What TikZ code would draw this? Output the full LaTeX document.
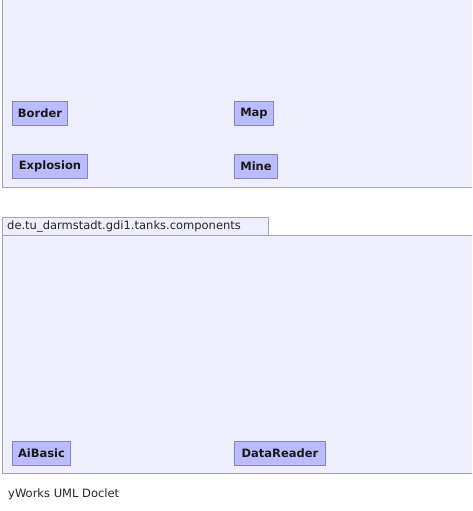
\documentclass[tikz,border=0pt]{standalone}
\usepackage{fontspec}
\setsansfont{DejaVu Sans}
\definecolor{panelfill}{HTML}{EEEEFC}
\definecolor{panelline}{HTML}{A4A4B4}
\definecolor{classfill}{HTML}{BBBBFF}
\definecolor{classline}{HTML}{8484C4}
\tikzset{
  panel/.style={fill=panelfill, draw=panelline, line width=1pt},
  classbox/.style={draw=classline, fill=classfill, line width=1pt, anchor=north west,
    minimum height=24pt, inner sep=0pt, font=\sffamily\bfseries\fontsize{11.5}{13}\selectfont, text=black!90},
  plaintext/.style={anchor=west, inner sep=0pt, font=\sffamily\fontsize{11.5}{13}\selectfont, text=black!85}
}
\begin{document}
\begin{tikzpicture}[x=1pt,y=-1pt]
\useasboundingbox (0,0) rectangle (472,511);
\clip (0,0) rectangle (472,511);
% top panel
\draw[panel] (2,-5) rectangle (480,187);
% bottom panel with tab
\draw[panel] (2,235) rectangle (480,473);
\draw[panel] (2,217) rectangle (268,235);
\node[plaintext] (tab) at (7,226.5) {de.tu\_darmstadt.gdi1.tanks.components};
% classes
\node[classbox, minimum width=55pt] (border) at (12,101) {Border};
\node[classbox, minimum width=75pt] (explosion) at (12,154) {Explosion};
\node[classbox, minimum width=39pt] (map) at (234,101) {Map};
\node[classbox, minimum width=43pt] (mine) at (234,154) {Mine};
\node[classbox, minimum width=58pt] (aibasic) at (12,441) {AiBasic};
\node[classbox, minimum width=91pt] (datareader) at (234,441) {DataReader};
\node[plaintext] (doclet) at (8,494) {yWorks UML Doclet};
\end{tikzpicture}
\end{document}
